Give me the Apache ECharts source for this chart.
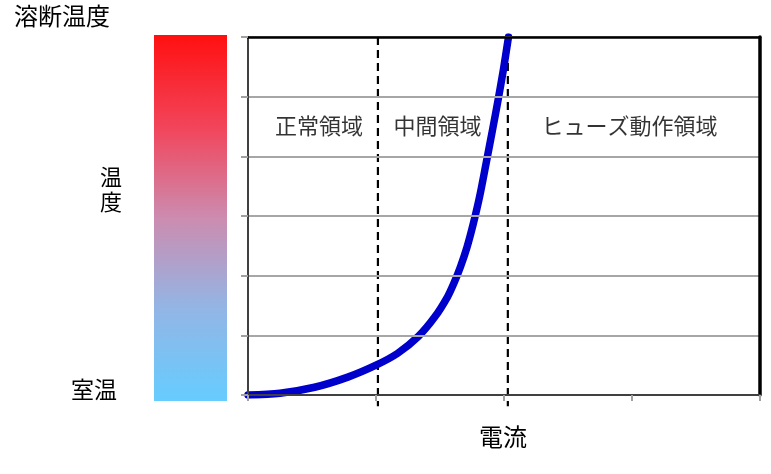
<!DOCTYPE html>
<html>
<head>
<meta charset="utf-8">
<script src="https://cdn.jsdelivr.net/npm/echarts@6/dist/echarts.min.js"></script>
<style>
html,body{margin:0;padding:0;background:#fff;}
#chart{width:771px;height:474px;}
</style>
</head>
<body>
<div id="chart"></div>
<script>
// Data
const currentValues = [0, 0.25, 0.52, 0.78, 1.0, 1.17, 1.33, 1.46, 1.56, 1.61, 1.66, 1.71, 1.76, 1.81, 1.86, 1.91, 1.955, 1.995, 2.035];
const tempValues    = [0, 0.03, 0.13, 0.30, 0.50, 0.70, 0.98, 1.31, 1.65, 1.88, 2.15, 2.47, 2.87, 3.33, 3.88, 4.44, 4.96, 5.45, 6.0];
const zoneBoundaries = [1.015, 2.03];
const zoneLabels = ['正常領域', '中間領域', 'ヒューズ動作領域'];
const zoneLabelX = [0.555, 1.48, 2.98];
const zoneLabelY = [4.52, 4.52, 4.52];
const xTitle = '電流';
const tempTop = '溶断温度';
const tempMid = '温\n度';
const tempBottom = '室温';

const FONT = '"Noto Sans CJK JP", sans-serif';

const chart = echarts.init(document.getElementById('chart'));

const curveData = currentValues.map((x, i) => [x, tempValues[i]]);
const dashedSeries = zoneBoundaries.map(b => ({
  type: 'line',
  data: [[b, 6], [b, -0.19]],
  symbol: 'none',
  clip: false,
  z: 3,
  lineStyle: { color: '#000', width: 2.2, type: [8, 5] },
  silent: true
}));

chart.setOption({
  animation: false,
  grid: { left: 248, top: 37, width: 512, height: 358 },
  xAxis: [
    {
      type: 'value', min: 0, max: 4, interval: 1,
      axisLine: { show: true, lineStyle: { color: '#404040', width: 2 } },
      axisTick: { show: true, length: 6, lineStyle: { color: '#a0a0a0', width: 2 } },
      axisLabel: { show: false },
      splitLine: { show: false },
      z: 5
    },
    {
      type: 'value', min: 0, max: 4, position: 'top',
      axisLine: { show: true, onZero: false, lineStyle: { color: '#000', width: 2.5 } },
      axisTick: { show: false }, axisLabel: { show: false }, splitLine: { show: false },
      z: 5
    }
  ],
  yAxis: [
    {
      type: 'value', min: 0, max: 6, interval: 1,
      axisLine: { show: true, lineStyle: { color: '#404040', width: 2 } },
      axisTick: { show: true, length: 7, lineStyle: { color: '#a0a0a0', width: 2 } },
      axisLabel: { show: false },
      splitLine: { show: true, lineStyle: { color: '#a6a6a6', width: 2 } },
      z: 5
    },
    {
      type: 'value', min: 0, max: 6, position: 'right',
      axisLine: { show: true, onZero: false, lineStyle: { color: '#000', width: 3.5 } },
      axisTick: { show: false }, axisLabel: { show: false }, splitLine: { show: false },
      z: 5
    }
  ],
  series: [
    {
      type: 'line',
      data: curveData,
      smooth: 0.3,
      symbol: 'none',
      z: 4,
      lineStyle: { color: '#0000cc', width: 7.5, cap: 'round', join: 'round' }
    },
    ...dashedSeries,
    {
      type: 'scatter',
      data: zoneLabels.map((n, i) => ({ name: n, value: [zoneLabelX[i], zoneLabelY[i]] })),
      symbolSize: 0,
      silent: true,
      label: {
        show: true, position: 'inside', formatter: '{b}',
        color: '#000', fontSize: 22, fontFamily: FONT
      }
    }
  ],
  graphic: [
    {
      type: 'rect',
      shape: { x: 154, y: 35, width: 73, height: 366 },
      style: {
        fill: new echarts.graphic.LinearGradient(0, 0, 0, 1, [
          { offset: 0, color: '#ff1010' },
          { offset: 0.25, color: '#f2445a' },
          { offset: 0.5, color: '#cc8cb0' },
          { offset: 0.75, color: '#92b6e6' },
          { offset: 1, color: '#66ccff' }
        ])
      }
    },
    {
      type: 'text', left: 14, top: 4,
      style: { text: tempTop, fontSize: 24, fontFamily: FONT, fill: '#000' }
    },
    {
      type: 'text', left: 100, top: 164,
      style: { text: tempMid, fontSize: 22, lineHeight: 25, fontFamily: FONT, fill: '#000', align: 'center' }
    },
    {
      type: 'text', left: 71, top: 378,
      style: { text: tempBottom, fontSize: 23, fontFamily: FONT, fill: '#000' }
    },
    {
      type: 'text', left: 479, top: 425,
      style: { text: xTitle, fontSize: 24, fontFamily: FONT, fill: '#000' }
    }
  ]
});
</script>
</body>
</html>
